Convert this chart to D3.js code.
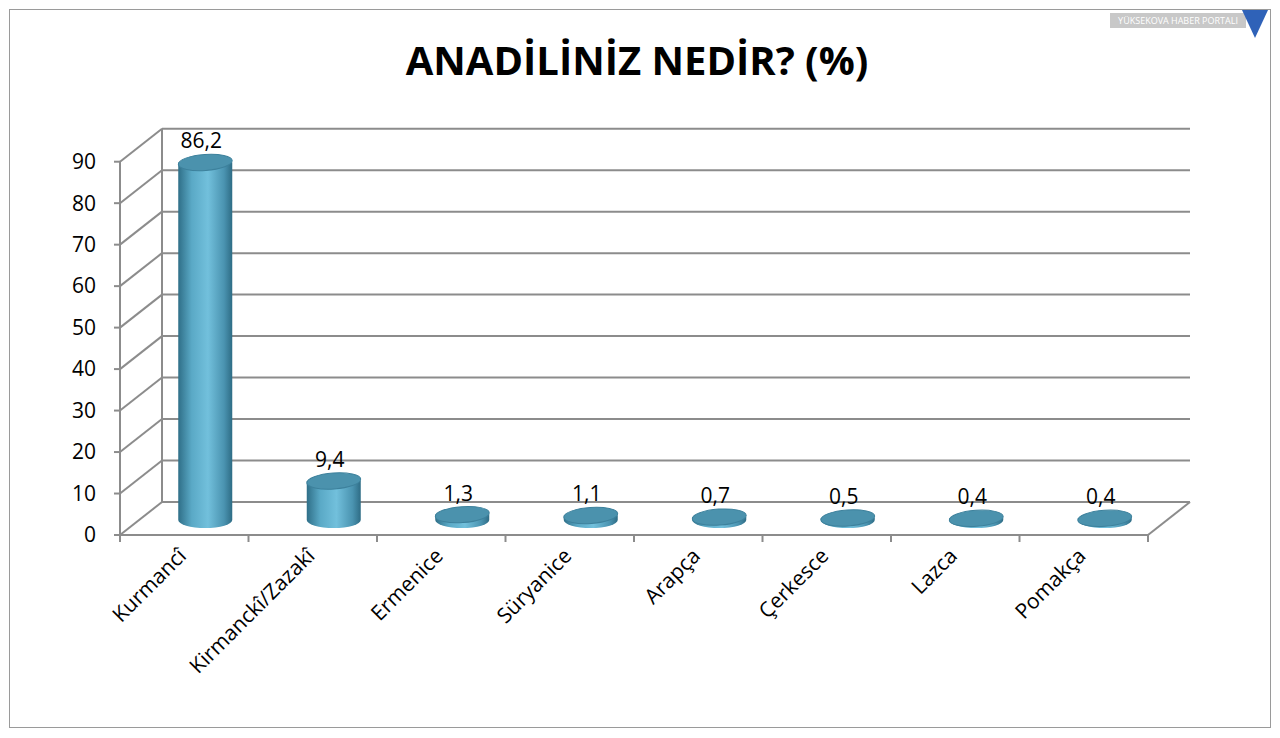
<!DOCTYPE html>
<html><head><meta charset="utf-8">
<script src="https://cdn.jsdelivr.net/npm/d3@7"></script>
<style>body{margin:0;background:#fff}svg{display:block;font-family:"Open Sans",Lato,sans-serif}</style>
</head><body><svg id="c" width="1280" height="738"></svg>
<script>
const categories=["Kurmancî","Kirmanckî/Zazakî","Ermenice","Süryanice","Arapça","Çerkesce","Lazca","Pomakça"];
const values=[86.2,9.4,1.3,1.1,0.7,0.5,0.4,0.4];
const labels=["86,2","9,4","1,3","1,1","0,7","0,5","0,4","0,4"];
const ticks=[0,10,20,30,40,50,60,70,80,90];

const svg=d3.select("#c");
svg.append("rect").attr("x",9.5).attr("y",9.5).attr("width",1261).attr("height",718).attr("fill","none").attr("stroke","#9a9a9a");
const x0=120,x1=1148,dx=42,dy=-33;
const y=d3.scaleLinear().domain([0,90]).range([535,161.7]);
const x=d3.scaleBand().domain(categories).range([x0,x1]);
const defs=svg.append("defs");
const g=defs.append("linearGradient").attr("id","cyl");
[["0%","#2f6f88"],["25%","#5aa9c6"],["55%","#72c0dc"],["85%","#4a93b0"],["100%","#2e6c85"]].forEach(s=>g.append("stop").attr("offset",s[0]).attr("stop-color",s[1]));
const grid="#8c8c8c";
ticks.forEach(t=>{
  svg.append("line").attr("x1",x0+dx).attr("x2",x1+dx).attr("y1",y(t)+dy).attr("y2",y(t)+dy).attr("stroke",grid).attr("stroke-width",2);
  svg.append("line").attr("x1",x0).attr("x2",x0+dx).attr("y1",y(t)).attr("y2",y(t)+dy).attr("stroke",grid).attr("stroke-width",2);
  svg.append("line").attr("x1",x0-6).attr("x2",x0).attr("y1",y(t)).attr("y2",y(t)).attr("stroke",grid).attr("stroke-width",2);
  svg.append("text").attr("x",96).attr("y",y(t)).attr("dy","0.35em").attr("text-anchor","end").attr("font-size",21).text(t);
});
svg.append("line").attr("x1",x0+dx).attr("x2",x0+dx).attr("y1",y(0)+dy).attr("y2",y(90)+dy).attr("stroke",grid).attr("stroke-width",2);
svg.append("line").attr("x1",x0).attr("x2",x0).attr("y1",y(0)).attr("y2",y(90)).attr("stroke",grid).attr("stroke-width",2);
svg.append("line").attr("x1",x0).attr("x2",x1).attr("y1",535).attr("y2",535).attr("stroke",grid).attr("stroke-width",2);
svg.append("line").attr("x1",x1).attr("x2",x1+dx).attr("y1",535).attr("y2",535+dy).attr("stroke",grid).attr("stroke-width",2);
categories.concat(["_end"]).forEach((c,i)=>{
  const xx=x0+i*x.bandwidth();
  svg.append("line").attr("x1",xx).attr("x2",xx).attr("y1",535).attr("y2",542).attr("stroke",grid).attr("stroke-width",2);
});
const rx=27,ry=8,base=520;
categories.forEach((c,i)=>{
  const cx=x(c)+x.bandwidth()/2+21;
  const top=y(values[i])-15;
  svg.append("path").attr("d",`M${cx-rx},${top} L${cx-rx},${base} A${rx},${ry} 0 0 0 ${cx+rx},${base} L${cx+rx},${top} Z`).attr("fill","url(#cyl)");
  svg.append("ellipse").attr("cx",cx).attr("cy",top).attr("rx",rx).attr("ry",ry).attr("fill","#4b92ad").attr("stroke","#3d819c").attr("stroke-width",1)
    .attr("transform",`rotate(-4 ${cx} ${top})`);
  svg.append("text").attr("x",cx-4).attr("y",top-14).attr("text-anchor","middle").attr("font-size",21).text(labels[i]);
  const lx=x(c)+x.bandwidth()/2-2, ly=552;
  svg.append("text").attr("transform",`translate(${lx},${ly}) rotate(-45)`).attr("text-anchor","end").attr("dy","0.35em").attr("font-size",21).text(c);
});
svg.append("text").attr("x",637).attr("y",75).attr("text-anchor","middle").attr("font-size",40).attr("font-weight","bold").text("ANADİLİNİZ NEDİR? (%)");
svg.append("rect").attr("x",1110).attr("y",13).attr("width",136).attr("height",15).attr("fill","#c8c8c8");
svg.append("text").attr("x",1178).attr("y",24).attr("text-anchor","middle").attr("font-size",9).attr("fill","#fff").text("YÜKSEKOVA HABER PORTALI");
svg.append("path").attr("d","M1242,10 L1268,10 L1255,38 Z").attr("fill","#2f62b8");
</script></body></html>
